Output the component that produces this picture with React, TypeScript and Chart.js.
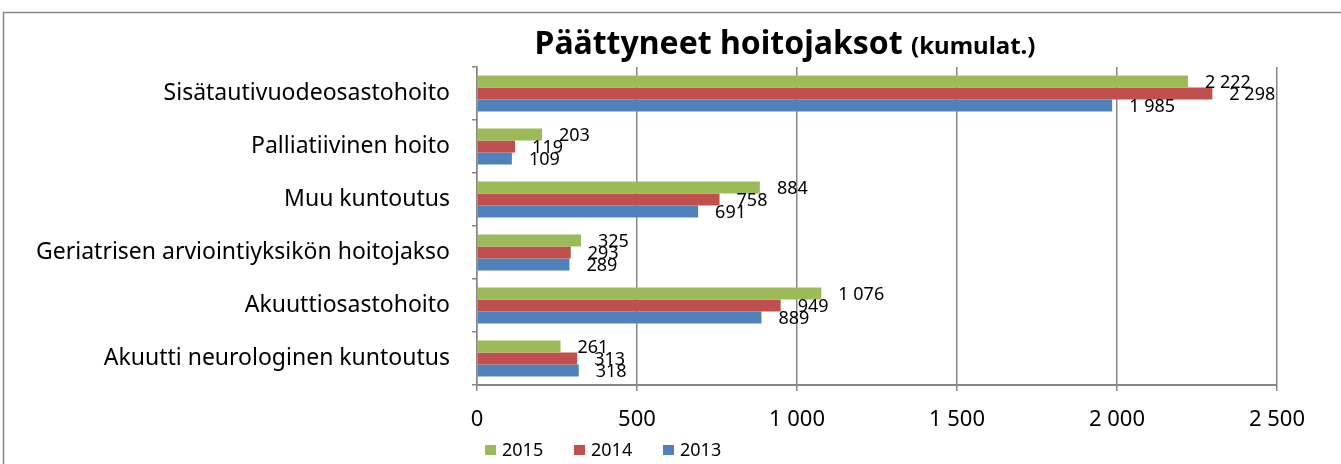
import React, { useEffect, useRef } from "react";
import { Chart, registerables } from "chart.js";

Chart.register(...registerables);

const categories = [
  "Sisätautivuodeosastohoito",
  "Palliatiivinen hoito",
  "Muu kuntoutus",
  "Geriatrisen arviointiyksikön hoitojakso",
  "Akuuttiosastohoito",
  "Akuutti neurologinen kuntoutus",
];
const values2015 = [2222, 203, 884, 325, 1076, 261];
const values2014 = [2298, 119, 758, 293, 949, 313];
const values2013 = [1985, 109, 691, 289, 889, 318];
const seriesNames = ["2015", "2014", "2013"];
const seriesColors = ["#9BBB59", "#C0504D", "#4F81BD"];
const titleMain = "Päättyneet hoitojaksot";
const titleSub = "(kumulat.)";

const FONT = "'Noto Sans', 'Open Sans', sans-serif";

function fmt(v: number): string {
  const s = String(Math.round(v));
  return s.replace(/\B(?=(\d{3})+(?!\d))/g, " ");
}

const decorPlugin = {
  id: "decor",
  beforeDraw(chart: any) {
    const ctx = chart.ctx;
    ctx.save();
    ctx.fillStyle = "#ffffff";
    ctx.fillRect(0, 0, chart.width, chart.height);
    ctx.strokeStyle = "#868686";
    ctx.lineWidth = 1.5;
    ctx.beginPath();
    ctx.moveTo(3.5, chart.height + 5);
    ctx.lineTo(3.5, 12.5);
    ctx.lineTo(chart.width + 5, 12.5);
    ctx.stroke();
    ctx.restore();
  },
  afterDraw(chart: any) {
    const ctx = chart.ctx;
    ctx.save();
    // title
    ctx.fillStyle = "#000";
    ctx.textBaseline = "alphabetic";
    ctx.font = `bold 32px ${FONT}`;
    const w1 = ctx.measureText(titleMain + " ").width;
    ctx.font = `bold 24px ${FONT}`;
    const w2 = ctx.measureText(titleSub).width;
    const cx = 785;
    const x = cx - (w1 + w2) / 2;
    ctx.font = `bold 32px ${FONT}`;
    ctx.textAlign = "left";
    ctx.fillText(titleMain + " ", x, 54);
    ctx.font = `bold 24px ${FONT}`;
    ctx.fillText(titleSub, x + w1, 54);

    // legend
    ctx.font = `18px ${FONT}`;
    ctx.textBaseline = "middle";
    let lx = 485;
    const ly = 450;
    seriesNames.forEach((name, i) => {
      ctx.fillStyle = seriesColors[i];
      ctx.fillRect(lx, ly - 5, 11, 10);
      ctx.fillStyle = "#000";
      ctx.fillText(name, lx + 17, ly + 1);
      lx += 89;
    });
    ctx.restore();
  },
  afterDatasetsDraw(chart: any) {
    const ctx = chart.ctx;
    ctx.save();
    ctx.font = `18px ${FONT}`;
    ctx.fillStyle = "#000";
    ctx.textAlign = "left";
    ctx.textBaseline = "middle";
    chart.data.datasets.forEach((ds: any, di: number) => {
      const meta = chart.getDatasetMeta(di);
      meta.data.forEach((el: any, i: number) => {
        ctx.fillText(fmt(ds.data[i]), el.x + 17, el.y + 1);
      });
    });
    ctx.restore();
  },
};

export default function App() {
  const ref = useRef<HTMLCanvasElement | null>(null);
  useEffect(() => {
    if (!ref.current) return;
    const chart = new Chart(ref.current, {
      type: "bar",
      data: {
        labels: categories,
        datasets: [
          { label: seriesNames[0], data: values2015, backgroundColor: seriesColors[0] },
          { label: seriesNames[1], data: values2014, backgroundColor: seriesColors[1] },
          { label: seriesNames[2], data: values2013, backgroundColor: seriesColors[2] },
        ],
      },
      options: {
        indexAxis: "y",
        animation: false,
        responsive: false,
        maintainAspectRatio: false,
        layout: { padding: { top: 67, right: 64, bottom: 0, left: 0 } },
        datasets: { bar: { barPercentage: 1, categoryPercentage: 0.68 } },
        plugins: {
          legend: { display: false },
          title: { display: false },
          tooltip: { enabled: false },
        },
        scales: {
          x: {
            min: 0,
            max: 2500,
            ticks: {
              stepSize: 500,
              color: "#000",
              font: { family: FONT, size: 22 },
              padding: 16,
              maxRotation: 0,
              callback: (v: any) => fmt(Number(v)),
            },
            grid: { color: "#868686", lineWidth: 1.5, tickLength: 6, drawTicks: true },
            border: { color: "#868686", width: 2 },
            afterFit: (s: any) => {
              s.height = 79;
            },
          },
          y: {
            ticks: {
              color: "#000",
              font: { family: FONT, size: 23 },
              padding: 22,
            },
            grid: { drawOnChartArea: false, drawTicks: true, tickLength: 5, offset: true, color: "#868686", lineWidth: 1.5 },
            border: { color: "#868686", width: 1.5 },
            afterFit: (s: any) => {
              s.width = 477;
            },
          },
        },
      },
      plugins: [decorPlugin],
    } as any);
    return () => chart.destroy();
  }, []);
  return (
    <div style={{ position: "absolute", left: 0, top: 0, width: 1341, height: 464 }}>
      <canvas ref={ref} width={1341} height={464} style={{ display: "block" }} />
    </div>
  );
}
